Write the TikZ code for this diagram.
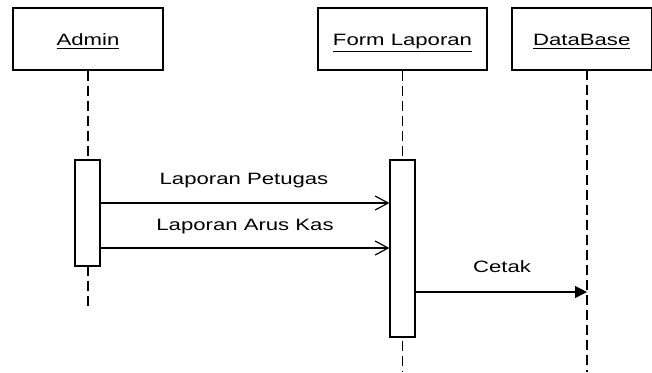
\documentclass[tikz,border=0pt]{standalone}
\usepackage{fontspec}
\setmainfont{Liberation Sans}[FakeStretch=1.35]
\usetikzlibrary{arrows.meta}

\tikzset{
  objbox/.style={draw, line width=0.6pt, inner sep=0pt, minimum height=31pt, text height=8pt, text depth=1.5pt},
  actbox/.style={draw, fill=white, line width=0.6pt, inner sep=0pt, minimum width=12.5pt},
  lifeline/.style={line width=0.6pt, dash pattern=on 5pt off 2.5pt},
  msg/.style={line width=0.6pt, -{Straight Barb[length=6.5pt, width=7pt]}},
  call/.style={line width=0.6pt, -{Triangle[length=6pt, width=6pt]}},
  msglabel/.style={anchor=base, inner sep=0pt}
}

\begin{document}
\fontsize{8.2}{10}\selectfont
\begin{tikzpicture}[x=0.5pt, y=-0.5pt]
    \useasboundingbox (0,0) rectangle (652,372);

    \node[objbox, minimum width=75pt] (admin) at (88,39) {\underline{Admin}};
    \node[objbox, minimum width=84.5pt] (form) at (402.5,39) {\underline{Form Laporan}};
    \node[objbox, minimum width=69.75pt] (db) at (581.75,39) {\underline{DataBase}};

    \coordinate (adminEnd) at (88,310);
    \coordinate (formEnd) at (402.5,372);
    \coordinate (dbTop) at (587,70);
    \coordinate (dbEnd) at (587,372);

    \draw[lifeline] (admin.south) -- (adminEnd);
    \draw[lifeline] (form.south) -- (formEnd);
    \draw[lifeline] (dbTop) -- (dbEnd);

    \node[actbox, minimum height=53pt] (actA) at (87.5,213) {};
    \node[actbox, minimum height=88.5pt] (actF) at (402.5,248.5) {};

    \coordinate (m1) at (0,203);
    \coordinate (m2) at (0,248);
    \coordinate (m3) at (0,292);

    \draw[msg] (actA.east |- m1) -- (actF.west |- m1);
    \draw[msg] (actA.east |- m2) -- (actF.west |- m2);
    \draw[call] (actF.east |- m3) -- (dbTop |- m3);

    \node[msglabel] (l1) at (244,184) {Laporan Petugas};
    \node[msglabel] (l2) at (245,230) {Laporan Arus Kas};
    \node[msglabel] (l3) at (502,272) {Cetak};
  \end{tikzpicture}
\end{document}
